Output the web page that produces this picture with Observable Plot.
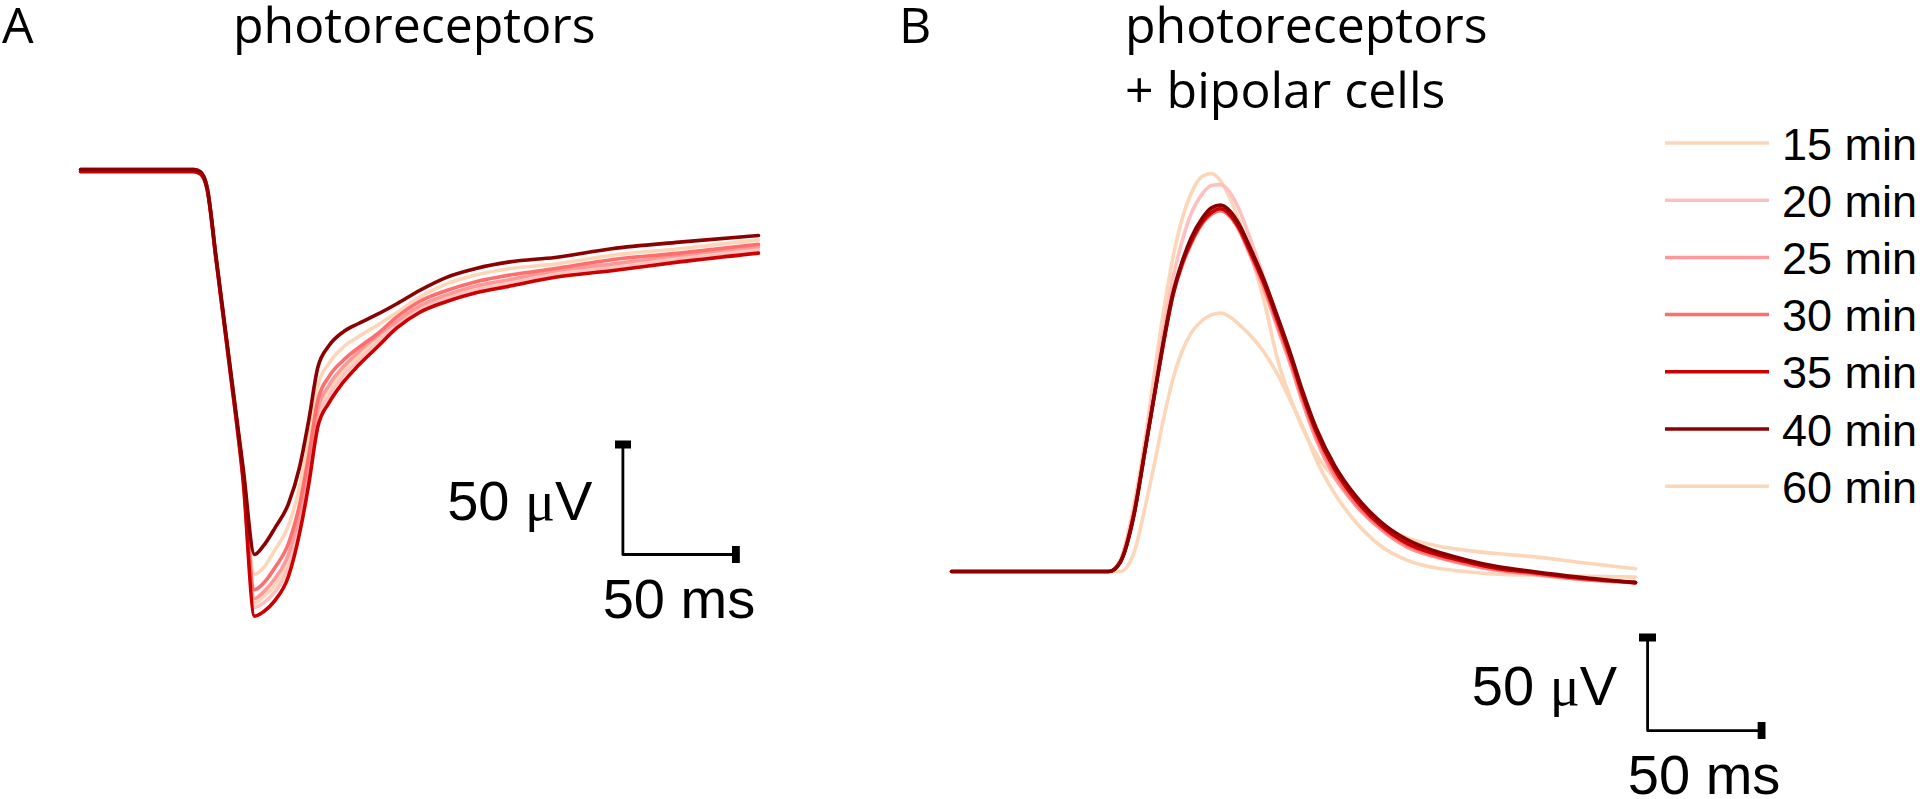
<!DOCTYPE html>
<html><head><meta charset="utf-8">
<script src="https://cdn.jsdelivr.net/npm/d3@7"></script>
<script src="https://cdn.jsdelivr.net/npm/@observablehq/plot@0.6"></script>
<style>
html,body{margin:0;padding:0;background:#fff;}
#root{position:relative;width:1920px;height:799px;overflow:hidden;background:#fff;}
#root svg{position:absolute;top:0;}
</style></head><body><div id="root"></div>
<script>
// ---- categories / colours ----
const labels = ["15 min","20 min","25 min","30 min","35 min","40 min","60 min"];
const colors = ["#fcd6b8","#ffc0c0","#ff9999","#ff6e6e","#cc0000","#8b0000","#fcd6b8"];
const drawOrder = ["60 min","15 min","20 min","25 min","30 min","35 min","40 min"];

// ---- Panel A: photoreceptors (time in ms, voltage in µV) ----
const timeA = [0, 20, 40, 50, 53, 56, 60, 66, 72, 77, 81, 86, 92, 97, 101, 105, 110, 116, 123, 131, 140, 150, 162, 175, 190, 210, 235, 265, 300];
const a15 = [0, 0, 0, 0, -1, -8, -41, -90, -141, -197, -194, -189, -178, -159, -137, -111, -100, -92, -85, -78, -70, -63, -58, -54, -51, -47, -44, -40, -36];
const a20 = [0, 0, 0, 0, -1, -8, -41, -90, -141, -199, -197, -192, -181, -162, -140, -114, -103, -94, -87, -79, -71, -64, -59, -55, -52, -48, -45, -41, -37];
const a25 = [0, 0, 0, 0, -1, -8, -41, -89, -140, -195, -192, -186, -175, -156, -134, -109, -98, -90, -83, -76, -69, -62, -57, -53, -50, -46, -43, -39, -35];
const a30 = [0, 0, 0, 0, -1, -8, -40, -89, -139, -191, -188, -181, -170, -152, -130, -105, -94, -87, -81, -75, -67, -60, -55, -51, -48, -45, -41, -38, -34];
const a35 = [-1, -1, -1, -1, -2, -9, -41, -90, -142, -203, -201, -196, -185, -165, -143, -117, -106, -97, -89, -81, -72, -65, -60, -56, -53, -49, -46, -42, -38];
const a40 = [0, 0, 0, 0, -1, -8, -40, -88, -136, -175, -171, -163, -152, -135, -114, -90, -80, -74, -70, -66, -61, -55, -49, -45, -42, -40, -36, -33, -30];
const a60 = [0, 0, 0, 0, -1, -8, -40, -89, -138, -184, -181, -173, -162, -144, -123, -98, -88, -81, -76, -71, -65, -58, -52, -48, -45, -43, -39, -36, -32];

// ---- Panel B: photoreceptors + bipolar cells ----
const timeB = [0, 30, 60, 69, 74, 80, 85, 89, 93, 97, 101, 105, 110, 114, 118, 122, 126, 131, 137, 143, 149, 154, 160, 168, 177, 188, 200, 212, 225, 240, 255, 275, 300];
const b15 = [0, 0, 0, 0, 6, 36, 72, 107, 140, 168, 189, 203, 212.5, 214, 210, 201, 189, 171, 146, 114, 92, 77, 63, 50, 38, 26, 18, 14, 11.5, 9.5, 8, 5, 1.5];
const b20 = [0, 0, 0, 0, 6, 33, 70, 101, 131, 157, 177, 192, 203, 207.5, 208, 204, 195, 179, 158, 134, 111, 91, 71, 51, 36, 23, 13, 8, 4, 0.5, -1.5, -4, -5.5];
const b25 = [0, 0, 0, 0, 5, 31, 67, 96, 125, 150, 166, 178, 188, 193, 195, 192, 184, 170, 152, 131, 110, 91, 71, 51, 36, 23, 13, 8, 4, 0.5, -1.5, -4, -6];
const b30 = [0, 0, 0, 0, 5, 31, 66, 95, 123, 148, 164, 176, 187, 192, 194, 191, 184, 171, 154, 133, 112, 93, 73, 53, 37, 24, 14, 8.5, 4.5, 1, -1, -4, -6];
const b35 = [0, 0, 0, 0, 5, 31, 66, 95, 123, 148, 165, 177, 188, 193, 195, 192, 185, 172, 155, 135, 114, 95, 75, 55, 39, 25, 15, 9.5, 5.5, 1.5, -0.5, -3.5, -6];
const b40 = [0, 0, 0, 0, 5, 30, 66, 95, 124, 149, 166, 179, 190, 195.5, 197, 194, 187, 174, 157, 137, 116, 97, 77, 57, 41, 27, 17, 11, 6.5, 2.5, 0, -3, -6];
const b60 = [0, 0, 0, 0, 0, 10, 35, 58, 82, 103, 118, 128, 135, 138, 139, 137, 133, 127, 118, 106, 91, 78, 60, 42, 27, 14, 6, 2, 0, -1.5, -2, -2.5, -3];

// ---- scale bar sizes ----
const barMs = 50, barUV = 50;

// ---- build tables ----
const seriesA = {"15 min": a15, "20 min": a20, "25 min": a25, "30 min": a30, "35 min": a35, "40 min": a40, "60 min": a60};
const seriesB = {"15 min": b15, "20 min": b20, "25 min": b25, "30 min": b30, "35 min": b35, "40 min": b40, "60 min": b60};
const rows = (times, series) => drawOrder.flatMap(s => times.map((t, i) => ({series: s, t, v: series[s][i]})));
const rowsA = rows(timeA, seriesA);
const rowsB = rows(timeB, seriesB);

// layout (pixels)
const H = 799;
const panelA = {left: 0, width: 900, x0: 80, pxPerMs: 2.26, y0: 169, pxPerUV: 2.2};
const panelB = {left: 900, width: 1020, x0: 51, pxPerMs: 2.28, y0: 571, pxPerUV: 1.86};
const barA = {t: 240, v: -175};
const barB = {t: 305.3, v: -85.5};

function makePanel(p, data, bar) {
  const xDom = [-p.x0 / p.pxPerMs, (p.width - p.x0) / p.pxPerMs];
  const yDom = [-(H - p.y0) / p.pxPerUV, p.y0 / p.pxPerUV];
  const barPts = [
    {t: bar.t, v: bar.v + barUV},
    {t: bar.t, v: bar.v},
    {t: bar.t + barMs, v: bar.v}
  ];
  return Plot.plot({
    width: p.width, height: H, margin: 0,
    x: {domain: xDom, axis: null},
    y: {domain: yDom, axis: null},
    color: {domain: labels, range: colors},
    marks: [
      Plot.line(data, {x: "t", y: "v", z: "series", stroke: "series", strokeWidth: 3.6, curve: "monotone-x"}),
      Plot.line(barPts, {x: "t", y: "v", stroke: "black", strokeWidth: 2.8, markerStart: "tick", markerEnd: "tick"})
    ]
  });
}

const root = document.getElementById("root");
const chartA = makePanel(panelA, rowsA, barA);
const chartB = makePanel(panelB, rowsB, barB);
chartA.style.left = panelA.left + "px";
chartB.style.left = panelB.left + "px";
root.append(chartA, chartB);

// ---- overlay text ----
const ov = d3.create("svg").attr("width", 1920).attr("height", H).style("left", "0px");
const titleFont = "'Open Sans', 'Noto Sans', sans-serif";
const armFont = "'Liberation Sans', Arial, sans-serif";
const titles = [
  {text: "A", x: 2, y: 43},
  {text: "photoreceptors", x: 233, y: 43},
  {text: "B", x: 899, y: 43},
  {text: "photoreceptors", x: 1125, y: 43},
  {text: "+ bipolar cells", x: 1125, y: 108}
];
ov.selectAll("text.title").data(titles).join("text")
  .attr("x", d => d.x).attr("y", d => d.y)
  .attr("font-family", titleFont).attr("font-size", 50).attr("fill", "#000")
  .text(d => d.text);

function barLabels(chart, p, bar) {
  const sx = chart.scale("x"), sy = chart.scale("y");
  const bx = p.left + sx.apply(bar.t);
  const by = sy.apply(bar.v);
  const byTop = sy.apply(bar.v + barUV);
  const bx2 = p.left + sx.apply(bar.t + barMs);
  const t1 = ov.append("text").attr("x", bx - 30).attr("y", (by + byTop) / 2 + 21)
    .attr("text-anchor", "end").attr("font-family", armFont).attr("font-size", 56);
  t1.append("tspan").text("50 ");
  t1.append("tspan").attr("font-family", "'Liberation Serif', serif").text("μ");
  t1.append("tspan").text("V");
  ov.append("text").attr("x", (bx + bx2) / 2).attr("y", by + 64)
    .attr("text-anchor", "middle").attr("font-family", armFont).attr("font-size", 56)
    .text("50 ms");
}
barLabels(chartA, panelA, barA);
barLabels(chartB, panelB, barB);

// legend
const legend = ov.append("g");
labels.forEach((lab, i) => {
  const y = 143 + i * 57.2;
  legend.append("line").attr("x1", 1665).attr("x2", 1769).attr("y1", y).attr("y2", y)
    .attr("stroke", colors[i]).attr("stroke-width", 3.5);
  legend.append("text").attr("x", 1782).attr("y", y + 16.5)
    .attr("font-family", armFont).attr("font-size", 45).text(lab);
});
root.append(ov.node());
</script>
</body></html>
